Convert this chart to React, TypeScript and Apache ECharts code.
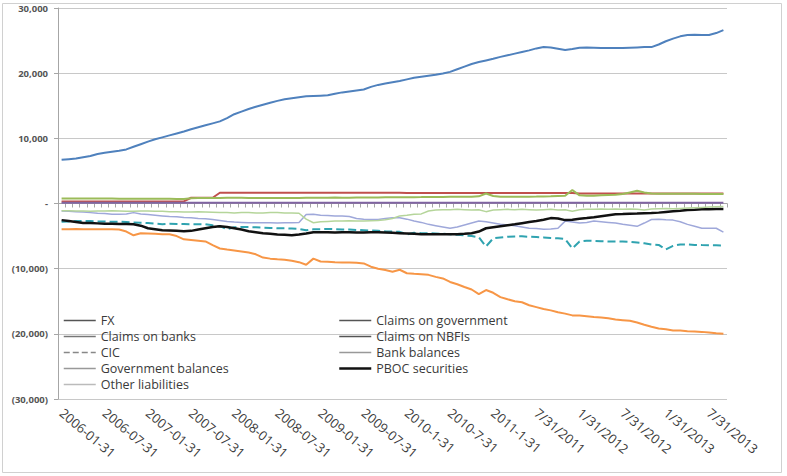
import React, { useEffect, useRef } from "react";
import * as echarts from "echarts";

const categories = [
  "2006-01-31","2006-02-28","2006-03-31","2006-04-30","2006-05-31","2006-06-30","2006-07-31","2006-08-31","2006-09-30","2006-10-31","2006-11-30","2006-12-31",
  "2007-01-31","2007-02-28","2007-03-31","2007-04-30","2007-05-31","2007-06-30","2007-07-31","2007-08-31","2007-09-30","2007-10-31","2007-11-30","2007-12-31",
  "2008-01-31","2008-02-29","2008-03-31","2008-04-30","2008-05-31","2008-06-30","2008-07-31","2008-08-31","2008-09-30","2008-10-31","2008-11-30","2008-12-31",
  "2009-01-31","2009-02-28","2009-03-31","2009-04-30","2009-05-31","2009-06-30","2009-07-31","2009-08-31","2009-09-30","2009-10-31","2009-11-30","2009-12-31",
  "2010-1-31","2010-2-28","2010-3-31","2010-4-30","2010-5-31","2010-6-30","2010-7-31","2010-8-31","2010-9-30","2010-10-31","2010-11-30","2010-12-31",
  "2011-1-31","2011-2-28","2011-3-31","2011-4-30","2011-5-31","2011-6-30","7/31/2011","8/31/2011","9/30/2011","10/31/2011","11/30/2011","12/31/2011",
  "1/31/2012","2/29/2012","3/31/2012","4/30/2012","5/31/2012","6/30/2012","7/31/2012","8/31/2012","9/30/2012","10/31/2012","11/30/2012","12/31/2012",
  "1/31/2013","2/28/2013","3/31/2013","4/30/2013","5/31/2013","6/30/2013","7/31/2013","8/31/2013","9/30/2013"
];

const fx = [
  6700, 6800, 6900, 7100, 7300, 7600, 7800, 7950, 8100, 8300, 8700, 9100,
  9500, 9850, 10150, 10450, 10750, 11050, 11400, 11700, 12000, 12300, 12600, 13100,
  13700, 14100, 14500, 14850, 15150, 15450, 15750, 16000, 16150, 16300, 16450, 16500,
  16550, 16600, 16850, 17050, 17200, 17350, 17500, 17900, 18200, 18400, 18600, 18800,
  19050, 19300, 19450, 19600, 19750, 19950, 20200, 20600, 21000, 21400, 21700, 21950,
  22200, 22500, 22750, 23000, 23250, 23500, 23800, 24000, 23950, 23750, 23550, 23700,
  23900, 23950, 23900, 23850, 23850, 23850, 23850, 23900, 23950, 24000, 24000, 24400,
  24900, 25300, 25650, 25850, 25900, 25850, 25850, 26150, 26600
];

const claimsOnGovernment = [
  320, 320, 320, 320, 320, 320, 320, 320, 320, 320, 320, 320,
  320, 320, 320, 320, 320, 320, 880, 880, 880, 880, 1650, 1650,
  1650, 1650, 1650, 1650, 1650, 1650, 1650, 1650, 1650, 1650, 1650, 1650,
  1650, 1650, 1650, 1650, 1650, 1650, 1650, 1650, 1650, 1650, 1650, 1650,
  1600, 1600, 1600, 1600, 1600, 1600, 1600, 1600, 1600, 1600, 1600, 1600,
  1600, 1600, 1600, 1600, 1600, 1600, 1600, 1600, 1600, 1600, 1600, 1600,
  1550, 1550, 1550, 1550, 1550, 1550, 1550, 1550, 1550, 1550, 1550, 1550,
  1550, 1550, 1550, 1550, 1550, 1550, 1550, 1550, 1550
];

const claimsOnBanks = [
  780, 780, 770, 770, 760, 760, 750, 750, 740, 740, 730, 730,
  720, 720, 710, 710, 700, 700, 820, 830, 840, 850, 860, 870,
  880, 870, 860, 850, 850, 840, 840, 830, 830, 850, 870, 880,
  900, 900, 910, 900, 900, 910, 920, 930, 930, 940, 950, 950,
  960, 970, 980, 1000, 1000, 1010, 1020, 1030, 1030, 1040, 1100, 1540,
  1150, 1050, 1040, 1030, 1040, 1050, 1060, 1080, 1100, 1150, 1180, 2070,
  1250, 1180, 1200, 1250, 1300, 1350, 1450, 1700, 1950, 1700, 1550, 1500,
  1480, 1480, 1500, 1500, 1480, 1460, 1450, 1450, 1450
];

const claimsOnNBFIs = [
  120, 120, 120, 120, 120, 120, 120, 120, 120, 120, 120, 120,
  120, 120, 120, 120, 120, 120, 120, 120, 120, 120, 120, 120,
  120, 120, 120, 120, 120, 120, 120, 120, 120, 120, 120, 120,
  120, 120, 120, 120, 120, 120, 120, 120, 120, 120, 120, 120,
  120, 120, 120, 120, 120, 120, 120, 120, 120, 120, 120, 120,
  120, 120, 120, 120, 120, 120, 120, 120, 120, 120, 120, 120,
  120, 120, 120, 120, 120, 120, 120, 120, 120, 120, 120, 120,
  120, 120, 120, 120, 120, 120, 120, 120, 120
];

const cic = [
  -2800, -2750, -2700, -2700, -2700, -2750, -2750, -2800, -2800, -2850, -2900, -2950,
  -3000, -3100, -3170, -3100, -3150, -3150, -3170, -3170, -3200, -3350, -3480, -3950,
  -3640, -3600, -3600, -3650, -3700, -3750, -3800, -3800, -3850, -3900, -4100, -3950,
  -3950, -3900, -3950, -4000, -4000, -4050, -4100, -4150, -4200, -4260, -4300, -4350,
  -4730, -4500, -4550, -4570, -4600, -4650, -4730, -4800, -4900, -5000, -5190, -6590,
  -5350, -5200, -5100, -5050, -5040, -5100, -5150, -5200, -5300, -5350, -5450, -6900,
  -5820, -5700, -5750, -5800, -5820, -5820, -5850, -5900, -6000, -6100, -6280, -6350,
  -7060, -6500, -6280, -6300, -6350, -6380, -6400, -6420, -6440
];

const bankBalances = [
  -3950, -3950, -3900, -3950, -3950, -3950, -3950, -3950, -4000, -4300, -4880, -4570,
  -4600, -4650, -4700, -4730, -5000, -5500, -5600, -5700, -5820, -6400, -6900, -7060,
  -7200, -7350, -7530, -7800, -8300, -8460, -8550, -8620, -8800, -9000, -9390, -8460,
  -8900, -8930, -9000, -9050, -9050, -9100, -9200, -9700, -10000, -10200, -10480, -10170,
  -10700, -10790, -10850, -10950, -11260, -11500, -12040, -12400, -12810, -13200, -13900, -13280,
  -13700, -14370, -14700, -15000, -15150, -15610, -15900, -16200, -16400, -16700, -16900, -17170,
  -17200, -17300, -17400, -17480, -17600, -17800, -17900, -18000, -18260, -18600, -18900, -19190,
  -19300, -19500, -19500, -19600, -19650, -19700, -19800, -19900, -19970
];

const governmentBalances = [
  -1150, -1200, -1250, -1300, -1400, -1500, -1550,
  -1650, -1650, -1600, -1400, -1600,
  -1700, -1800, -1900, -2000, -2050, -2150, -2200, -2300, -2350, -2450,
  -2600, -2750, -2850, -2900, -2950, -2950, -2950, -2950, -3000, -2950, -2950, -2900,
  -1700, -1650, -1800, -1850, -1900, -1900, -2000,
  -2300, -2400, -2450, -2450, -2300, -2200, -2200,
  -2400, -2700, -2900, -3200, -3400, -3600,
  -3800, -3600, -3300, -3000, -2700, -2800, -3000,
  -3200, -3300, -3400, -3600, -3800, -3850, -3950, -3900, -3800,
  -2700, -2850, -3000, -2900, -2700, -2800, -2900, -3000, -3200, -3350,
  -3500, -3000, -2450, -2400, -2500, -2550, -2800, -3200, -3500, -3800, -3800, -3800, -4400
];

const pbocSecurities = [
  -2550, -2700, -2850, -3000, -3000, -3050, -3100, -3100, -3150, -3150, -3170, -3400,
  -3800, -3950, -4100, -4150, -4200, -4260, -4200, -4000, -3800, -3600, -3480, -3600,
  -3800, -4000, -4260, -4400, -4550, -4650, -4750, -4800, -4880, -4750, -4600, -4420,
  -4400, -4400, -4450, -4400, -4400, -4450, -4450, -4400, -4420, -4450, -4500, -4550,
  -4600, -4650, -4700, -4730, -4730, -4730, -4730, -4700, -4650, -4570, -4300, -3800,
  -3650, -3500, -3350, -3200, -3020, -2850, -2700, -2500, -2240, -2300, -2550, -2500,
  -2350, -2240, -2100, -1950, -1800, -1650, -1620, -1580, -1550, -1500, -1460, -1400,
  -1300, -1200, -1100, -990, -950, -900, -870, -850, -840
];

const otherLiabilities = [
  -1100, -1100, -1150, -1150, -1200, -1150, -1150, -1100, -1150, -1200, -1200, -1150,
  -1150, -1200, -1200, -1250, -1250, -1300, -1300, -1250, -1300, -1350,
  -1400, -1400, -1450, -1400, -1400, -1450, -1450, -1400, -1400, -1450, -1450, -1500,
  -2400, -2950,
  -2800, -2750, -2700, -2700, -2650, -2700, -2700, -2650, -2600, -2500, -2300,
  -1900, -1800, -1650, -1600,
  -1150, -1000, -950, -950, -900, -950, -1000, -950, -1250, -1000, -950, -900,
  -950, -900, -950, -1000, -950, -900, -1000, -950, -1200, -950, -900, -900,
  -850, -900, -850, -900, -850, -900, -1000, -850, -800, -750, -800, -750,
  -700, -650, -600, -550, -500, -450
];

const seriesNames = [
  "FX", "Claims on government", "Claims on banks", "Claims on NBFIs", "CIC",
  "Bank balances", "Government balances", "PBOC securities", "Other liabilities"
];

const seriesValues = [
  fx, claimsOnGovernment, claimsOnBanks, claimsOnNBFIs, cic,
  bankBalances, governmentBalances, pbocSecurities, otherLiabilities
];

const seriesColors = [
  "#4F81BD", "#C0504D", "#9BBB59", "#8064A2", "#2FA3B0",
  "#F79646", "#9FA8DA", "#111111", "#B5D59A"
];
const seriesWidths = [2, 2, 2, 2, 2, 2, 1.5, 2.5, 1.5];
const seriesTypes = ["solid", "solid", "solid", "solid", "dashed", "solid", "solid", "solid", "solid"];

const legendLeft = ["FX", "Claims on banks", "CIC", "Government balances", "Other liabilities"];
const legendRight = ["Claims on government", "Claims on NBFIs", "Bank balances", "PBOC securities"];
const legendIconColors: Record<string, string> = {
  "FX": "#555555",
  "Claims on government": "#555555",
  "Claims on banks": "#777777",
  "Claims on NBFIs": "#555555",
  "CIC": "#888888",
  "Bank balances": "#999999",
  "Government balances": "#999999",
  "PBOC securities": "#111111",
  "Other liabilities": "#bbbbbb",
};

const FONT = "'Open Sans', 'Noto Sans', sans-serif";

function fmtY(v: number): string {
  if (v === 0) return "-";
  const s = Math.abs(v).toLocaleString("en-US");
  return v < 0 ? `(${s})` : s;
}

export default function App() {
  const ref = useRef<HTMLDivElement>(null);
  useEffect(() => {
    if (!ref.current) return;
    const chart = echarts.init(ref.current, undefined, { renderer: "svg" });
    const mkLegend = (names: string[], left: number) => ({
      orient: "vertical",
      left,
      top: 309,
      itemWidth: 32,
      itemHeight: 14,
      itemGap: 3,
      itemStyle: { opacity: 0 },
      textStyle: { fontFamily: FONT, fontSize: 12.5, color: "#3a3a3a" },
      data: names.map((n) => ({
        name: n,
        itemStyle: { opacity: 0 },
        lineStyle: {
          color: legendIconColors[n],
          width: n === "PBOC securities" ? 2.5 : 1.5,
          type: n === "CIC" ? "dashed" : "solid",
        },
      })),
    });
    chart.setOption({
      animation: false,
      backgroundColor: "#ffffff",
      grid: { left: 58, right: 60, top: 8, bottom: 77 },
      legend: [mkLegend(legendLeft, 58), mkLegend(legendRight, 333)],
      xAxis: [
        {
          type: "category",
          data: categories,
          boundaryGap: true,
          axisLine: { onZero: true, lineStyle: { color: "#A6A6A6", width: 1 } },
          axisTick: { show: true, interval: 0, length: 4, lineStyle: { color: "#A6A6A6" } },
          axisLabel: { show: false },
          splitLine: { show: false },
        },
        {
          type: "category",
          data: categories,
          position: "bottom",
          boundaryGap: true,
          axisLine: { show: false, onZero: false },
          axisTick: { show: false },
          axisLabel: {
            interval: 5,
            rotate: -40,
            margin: 12,
            fontFamily: FONT,
            fontSize: 13,
            color: "#3a3a3a",
          },
          splitLine: { show: false },
        },
      ],
      yAxis: {
        type: "value",
        min: -30000,
        max: 30000,
        interval: 10000,
        axisLine: { show: true, lineStyle: { color: "#A6A6A6" } },
        axisTick: { show: true, length: 4, lineStyle: { color: "#A6A6A6" } },
        splitLine: { show: true, lineStyle: { color: "#C8C8C8" } },
        axisLabel: {
          formatter: fmtY,
          fontFamily: FONT,
          fontSize: 9.5,
          fontWeight: "bold",
          color: "#555555",
          margin: 10,
        },
      },
      graphic: [
        {
          type: "rect",
          shape: { x: 2.5, y: 3.5, width: 779, height: 469 },
          style: { fill: "none", stroke: "#D0D0D0", lineWidth: 1 },
          silent: true,
          z: -1,
        },
      ],
      series: seriesNames.map((name, i) => ({
        name,
        type: "line",
        xAxisIndex: 0,
        data: seriesValues[i],
        symbol: "none",
        showSymbol: false,
        smooth: false,
        lineStyle: { color: seriesColors[i], width: seriesWidths[i], type: seriesTypes[i] },
        itemStyle: { color: seriesColors[i] },
        z: 2 + i * 0.01,
      })),
    });
    return () => chart.dispose();
  }, []);
  return (
    <div
      ref={ref}
      style={{ position: "fixed", left: 0, top: 0, width: 787, height: 476, background: "#fff" }}
    />
  );
}
